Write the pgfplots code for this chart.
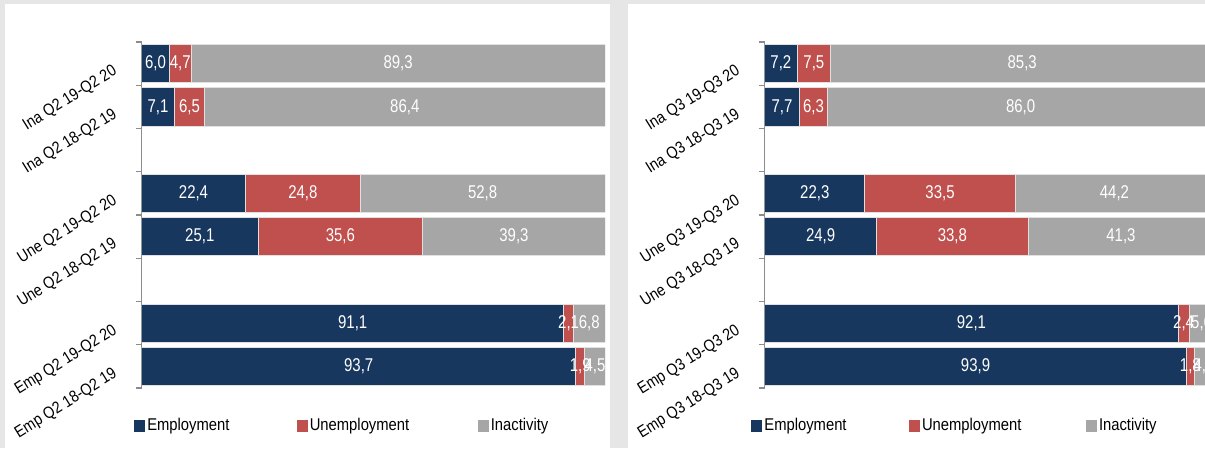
\documentclass[border=0pt]{standalone}
\usepackage{fontspec}
\setmainfont{Liberation Sans}[FakeStretch=0.87]
\newfontfamily\narrowfont{Liberation Sans}[FakeStretch=0.81]
\usepackage{pgfplots}
\usepackage{pgfplotstable}
\pgfplotsset{compat=1.18}

\definecolor{empl}{HTML}{17375E}
\definecolor{unem}{HTML}{C0504D}
\definecolor{inac}{HTML}{A6A6A6}
\definecolor{bggray}{HTML}{E6E6E6}
\definecolor{axgray}{HTML}{8C8C8C}

% y: slot on the category axis, e/u/i: shares in percent
\pgfplotstableread{
y e u i
1 6.0 4.7 89.3
2 7.1 6.5 86.4
4 22.4 24.8 52.8
5 25.1 35.6 39.3
7 91.1 2.1 6.8
8 93.7 1.9 4.5
}\lefttab
\pgfplotstableread{
y e u i
1 7.2 7.5 85.3
2 7.7 6.3 86.0
4 22.3 33.5 44.2
5 24.9 33.8 41.3
7 92.1 2.4 5.6
8 93.9 1.8 4.3
}\righttab

\pgfplotsset{
  panel/.style={
    scale only axis, height=346pt,
    xmin=0, xmax=100, ymin=0.5, ymax=8.5, y dir=reverse,
  },
  bars/.style={
    panel, xbar stacked, bar width=0.88,
    axis x line=none, axis y line*=left,
    axis line style={axgray, line width=1.2pt},
    ytick={1,2,4,5,7,8}, major tick length=0pt,
    minor ytick={0.5,1.5,...,8.5}, minor tick length=6pt,
    tick align=outside, minor tick style={axgray, line width=1.2pt},
    yticklabel shift=30pt,
    tick label style={font=\fontsize{16.5}{17}\selectfont,
      rotate=32, anchor=north east, inner sep=0pt},
    legend columns=3,
    legend style={draw=none, fill=none, inner sep=0pt, anchor=west,
      font=\fontsize{17}{18}\selectfont,
      nodes={inner sep=0pt},
      /tikz/every odd column/.append style={column sep=2pt}},
    legend image code/.code={\fill[##1, draw=none] (0pt,-6pt) rectangle (11pt,6pt);},
  },
  labs/.style={
    panel, hide axis,
    /pgf/number format/assume math mode=true,
    nodes near coords={\pgfmathprintnumber[fixed, fixed zerofill, precision=1, use comma]{\pgfplotspointmeta}},
    nodes near coords style={anchor=center, inner sep=0pt, text=white,
      font=\narrowfont\fontsize{18.5}{19}\selectfont},
  },
  ebar/.style={fill=empl, draw=black!12, line width=0.8pt},
  ubar/.style={fill=unem, draw=black!12, line width=0.8pt},
  ibar/.style={fill=inac, draw=black!12, line width=0.8pt},
}

\begin{document}
\begin{tikzpicture}
\useasboundingbox (0,0) rectangle (1205pt,448pt);
\clip (0,0) rectangle (1205pt,448pt);
\fill[bggray] (0,0) rectangle (1205pt,448pt);
\fill[white] (5pt,0) rectangle (610pt,444pt);
\fill[white] (628pt,0) rectangle (1205pt,444pt);

% left panel
\begin{axis}[bars, at={(141.6pt,60pt)}, anchor=south west, width=463.4pt,
  yticklabels={Ina Q2 19-Q2 20, Ina Q2 18-Q2 19, Une Q2 19-Q2 20, Une Q2 18-Q2 19, Emp Q2 19-Q2 20, Emp Q2 18-Q2 19},
  legend style={at={([xshift=-7.5pt,yshift=-37.5pt]axis description cs:0,0)}}]
\addplot[ebar] table[x=e, y=y] {\lefttab};
\addplot[ubar] table[x=u, y=y] {\lefttab};
\addplot[ibar] table[x=i, y=y] {\lefttab};
\addlegendentry{\makebox[149.5pt][l]{Employment}}
\addlegendentry{\makebox[168pt][l]{Unemployment}}
\addlegendentry{Inactivity}
\end{axis}
\begin{axis}[labs, at={(141.6pt,60pt)}, anchor=south west, width=463.4pt]
\addplot[draw=none, point meta=explicit] table[x expr=\thisrow{e}/2, y=y, meta=e] {\lefttab};
\addplot[draw=none, point meta=explicit] table[x expr=\thisrow{e}+\thisrow{u}/2, y=y, meta=u] {\lefttab};
\addplot[draw=none, point meta=explicit] table[x expr=\thisrow{e}+\thisrow{u}+\thisrow{i}/2, y=y, meta=i] {\lefttab};
\end{axis}

% right panel
\begin{axis}[bars, at={(764.7pt,60pt)}, anchor=south west, width=449pt,
  yticklabels={Ina Q3 19-Q3 20, Ina Q3 18-Q3 19, Une Q3 19-Q3 20, Une Q3 18-Q3 19, Emp Q3 19-Q3 20, Emp Q3 18-Q3 19},
  legend style={at={([xshift=-13.5pt,yshift=-37.5pt]axis description cs:0,0)}}]
\addplot[ebar] table[x=e, y=y] {\righttab};
\addplot[ubar] table[x=u, y=y] {\righttab};
\addplot[ibar] table[x=i, y=y] {\righttab};
\addlegendentry{\makebox[144.6pt][l]{Employment}}
\addlegendentry{\makebox[164pt][l]{Unemployment}}
\addlegendentry{Inactivity}
\end{axis}
\begin{axis}[labs, at={(764.7pt,60pt)}, anchor=south west, width=449pt]
\addplot[draw=none, point meta=explicit] table[x expr=\thisrow{e}/2, y=y, meta=e] {\righttab};
\addplot[draw=none, point meta=explicit] table[x expr=\thisrow{e}+\thisrow{u}/2, y=y, meta=u] {\righttab};
\addplot[draw=none, point meta=explicit] table[x expr=\thisrow{e}+\thisrow{u}+\thisrow{i}/2, y=y, meta=i] {\righttab};
\end{axis}
\end{tikzpicture}
\end{document}
